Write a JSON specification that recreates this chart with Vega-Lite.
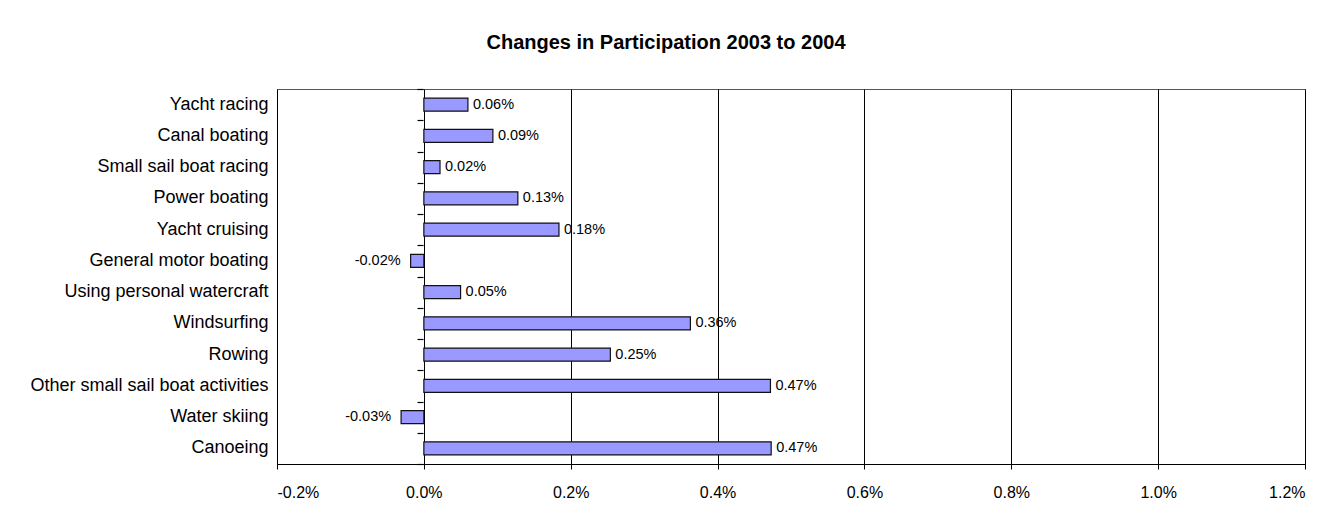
{
  "$schema": "https://vega.github.io/schema/vega-lite/v6.json",
  "width": 1028,
  "height": 375,
  "autosize": {"type": "none"},
  "padding": {"left": 277, "top": 89, "right": 35, "bottom": 55},
  "background": "white",
  "title": {
    "text": "Changes in Participation 2003 to 2004",
    "font": "Liberation Sans",
    "fontSize": 20,
    "fontWeight": "bold",
    "color": "black",
    "anchor": "middle",
    "frame": "group",
    "dx": -125,
    "baseline": "alphabetic",
    "offset": 19
  },
  "config": {
    "locale": {"number": {"decimal": ".", "thousands": ",", "grouping": [3], "currency": ["$", ""], "minus": "-"}},
    "view": {"stroke": "#555555", "strokeWidth": 1},
    "font": "Liberation Sans"
  },
  "data": {
    "values": [
      {"activity": "Yacht racing", "change": 0.00060},
      {"activity": "Canal boating", "change": 0.00094},
      {"activity": "Small sail boat racing", "change": 0.00022},
      {"activity": "Power boating", "change": 0.00128},
      {"activity": "Yacht cruising", "change": 0.00184},
      {"activity": "General motor boating", "change": -0.00018},
      {"activity": "Using personal watercraft", "change": 0.00050},
      {"activity": "Windsurfing", "change": 0.00363},
      {"activity": "Rowing", "change": 0.00254},
      {"activity": "Other small sail boat activities", "change": 0.00472},
      {"activity": "Water skiing", "change": -0.00031},
      {"activity": "Canoeing", "change": 0.00473}
    ]
  },
  "layer": [
    {
      "encoding": {
        "y": {
          "field": "activity",
          "type": "nominal",
          "sort": null,
          "scale": {"paddingInner": 0.58, "paddingOuter": 0.29},
          "axis": {
            "title": null,
            "orient": "left",
            "ticks": false,
            "tickSize": 0,
            "domain": false,
            "labelPadding": 9,
            "labelFontSize": 18,
            "labelLimit": 400,
            "labelColor": "black",
            "labelFont": "Liberation Sans"
          }
        },
        "x": {
          "field": "change",
          "type": "quantitative",
          "scale": {"domain": [-0.002, 0.012], "nice": false, "zero": false},
          "axis": {
            "title": null,
            "format": ".1%",
            "values": [-0.002, 0, 0.002, 0.004, 0.006, 0.008, 0.01, 0.012],
            "grid": true,
            "gridColor": "black",
            "gridOpacity": 1,
            "gridWidth": 1,
            "domain": true,
            "domainColor": "black",
            "domainWidth": 1.2,
            "ticks": true,
            "tickColor": "black",
            "tickSize": 5,
            "labelPadding": 15,
            "labelFontSize": 16,
            "labelColor": "black",
            "labelFont": "Liberation Sans"
          }
        }
      },
      "layer": [
        {
          "mark": {"type": "bar", "fill": "#9999FF", "stroke": "#111111", "strokeWidth": 1.2}
        },
        {
          "transform": [{"filter": "datum.change >= 0"}],
          "mark": {"type": "text", "align": "left", "baseline": "middle", "dx": 5, "fontSize": 14.5, "font": "Liberation Sans", "color": "black"},
          "encoding": {
            "text": {"field": "change", "type": "quantitative", "format": ".2%"}
          }
        },
        {
          "transform": [{"filter": "datum.change < 0"}],
          "mark": {"type": "text", "align": "right", "baseline": "middle", "dx": -10, "fontSize": 14.5, "font": "Liberation Sans", "color": "black"},
          "encoding": {
            "text": {"field": "change", "type": "quantitative", "format": ".2%"}
          }
        }
      ]
    },
    {
      "mark": {"type": "point", "opacity": 0},
      "encoding": {
        "x": {"field": "change", "type": "quantitative"},
        "y": {
          "field": "activity",
          "type": "nominal",
          "sort": null,
          "scale": {"paddingInner": 0, "paddingOuter": 0},
          "axis": {
            "title": null,
            "orient": "left",
            "offset": -146,
            "labels": false,
            "domain": false,
            "ticks": true,
            "tickBand": "extent",
            "tickSize": 6,
            "tickColor": "black",
            "tickWidth": 1.2
          }
        }
      }
    }
  ],
  "resolve": {"scale": {"y": "independent"}, "axis": {"y": "independent"}}
}
